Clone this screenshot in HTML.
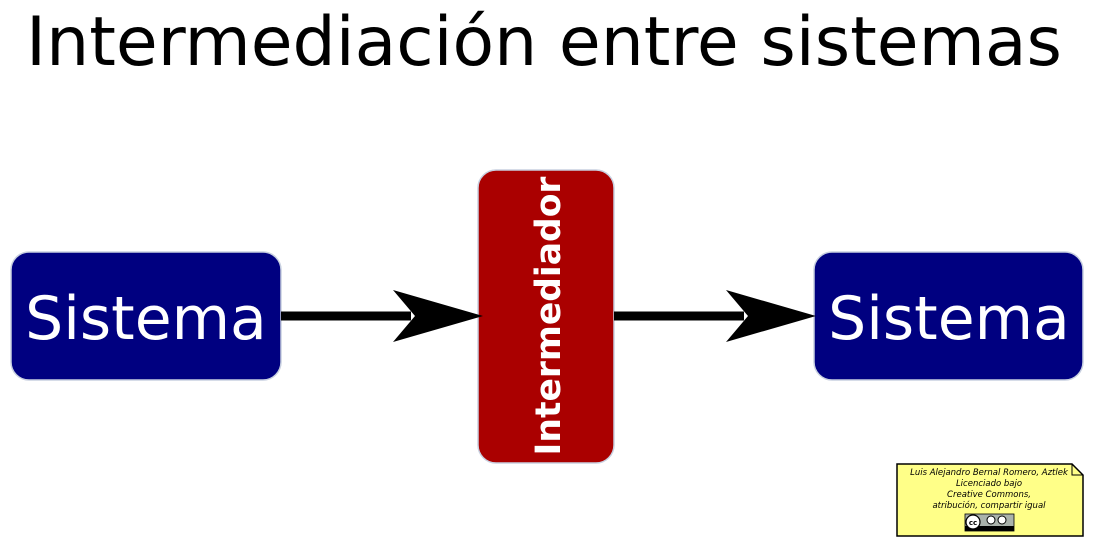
<!DOCTYPE html>
<html><head><meta charset="utf-8"><style>
body{margin:0;width:1095px;height:547px;background:#fff;overflow:hidden;font-family:"DejaVu Sans","Liberation Sans",sans-serif}
</style></head><body>
<svg width="1095" height="547" viewBox="0 0 1095 547" xmlns="http://www.w3.org/2000/svg" font-family="DejaVu Sans, Liberation Sans, sans-serif">
<text x="544" y="65" font-size="68" text-anchor="middle" fill="#000">Intermediación entre sistemas</text>
<rect x="11" y="252" width="270" height="128" rx="18" fill="#000080" stroke="#c8d0e0" stroke-width="1.5"/>
<text x="146" y="339" font-size="60" text-anchor="middle" fill="#fff">Sistema</text>
<rect x="814" y="252" width="269" height="128" rx="18" fill="#000080" stroke="#c8d0e0" stroke-width="1.5"/>
<text x="949" y="339" font-size="60" text-anchor="middle" fill="#fff">Sistema</text>
<rect x="478" y="170" width="136" height="293" rx="18" fill="#aa0000" stroke="#c8d0e0" stroke-width="1.5"/>
<text transform="translate(560,316) rotate(-90)" font-size="34.5" font-weight="bold" text-anchor="middle" fill="#fff">Intermediador</text>
<rect x="281" y="311.5" width="130" height="9" fill="#000"/>
<polygon points="483,316 393,290 415,316 393,342" fill="#000"/>
<rect x="614" y="311.5" width="130" height="9" fill="#000"/>
<polygon points="816,316 726,290 748,316 726,342" fill="#000"/>
<polygon points="897,464 1072,464 1083,475 1083,536 897,536" fill="#ffff88" stroke="#000" stroke-width="1.5"/>
<polyline points="1072,464 1072,475 1083,475" fill="none" stroke="#000" stroke-width="1"/>
<g font-size="8.5" font-style="italic" text-anchor="middle" fill="#000">
<text x="989" y="475">Luis Alejandro Bernal Romero, Aztlek</text>
<text x="989" y="486">Licenciado bajo</text>
<text x="989" y="497">Creative Commons,</text>
<text x="989" y="508">atribución, compartir igual</text>
</g>
<rect x="965" y="514" width="49" height="17" fill="#aab2ab" stroke="#000" stroke-width="0.8"/>
<rect x="965" y="526" width="49" height="5" fill="#000"/>
<circle cx="973" cy="522" r="7" fill="#fff" stroke="#000" stroke-width="1.2"/>
<text x="973" y="525" font-size="7" text-anchor="middle" font-weight="bold">cc</text>
<circle cx="991" cy="520" r="4" fill="#fff" stroke="#000"/>
<circle cx="1002" cy="520" r="4" fill="#fff" stroke="#000"/>
</svg>
</body></html>
